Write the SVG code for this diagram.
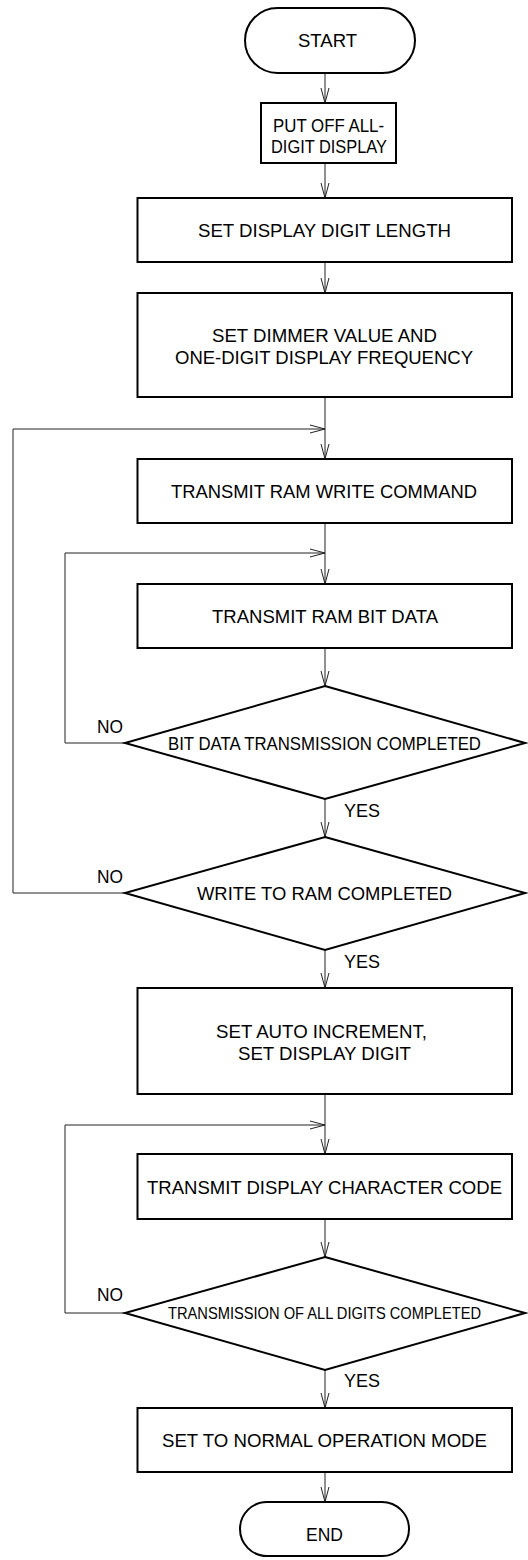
<svg xmlns="http://www.w3.org/2000/svg" width="528" height="1560" viewBox="0 0 528 1560">
<style>
.shape{fill:#fff;stroke:#000;stroke-width:2}
.conn{fill:none;stroke:#222;stroke-width:1}
text{font-family:"Liberation Sans",Arial,sans-serif;font-size:19px;fill:#000;text-anchor:middle}
.lbl{text-anchor:start}
.small{font-size:17px}
</style>
<defs>
<marker id="ah" viewBox="0 -5 16 10" markerWidth="16" markerHeight="10" refX="15" refY="0" orient="auto" markerUnits="userSpaceOnUse">
<path d="M0,-4 L15,0 L0,4" fill="none" stroke="#222" stroke-width="1"/>
</marker>
</defs>
<rect width="528" height="1560" fill="#fff"/>
<g id="connectors">
<line class="conn" x1="325" y1="73" x2="325" y2="103" marker-end="url(#ah)"/>
<line class="conn" x1="325" y1="163" x2="325" y2="198" marker-end="url(#ah)"/>
<line class="conn" x1="325" y1="262" x2="325" y2="293" marker-end="url(#ah)"/>
<line class="conn" x1="325" y1="397" x2="325" y2="459" marker-end="url(#ah)"/>
<polyline class="conn" points="125,893 13,893 13,429 325,429" marker-end="url(#ah)"/>
<line class="conn" x1="325" y1="523" x2="325" y2="584" marker-end="url(#ah)"/>
<polyline class="conn" points="125,743 65,743 65,553 325,553" marker-end="url(#ah)"/>
<line class="conn" x1="325" y1="648" x2="325" y2="686" marker-end="url(#ah)"/>
<line class="conn" x1="325" y1="799" x2="325" y2="837" marker-end="url(#ah)"/>
<line class="conn" x1="325" y1="950" x2="325" y2="988" marker-end="url(#ah)"/>
<line class="conn" x1="325" y1="1094" x2="325" y2="1154" marker-end="url(#ah)"/>
<polyline class="conn" points="125,1313 65,1313 65,1125 325,1125" marker-end="url(#ah)"/>
<line class="conn" x1="325" y1="1219" x2="325" y2="1257" marker-end="url(#ah)"/>
<line class="conn" x1="325" y1="1370" x2="325" y2="1408" marker-end="url(#ah)"/>
<line class="conn" x1="325" y1="1472" x2="325" y2="1502" marker-end="url(#ah)"/>
<text class="lbl" x="97" y="733" textLength="26" lengthAdjust="spacingAndGlyphs">NO</text>
<text class="lbl" x="344" y="817" textLength="36" lengthAdjust="spacingAndGlyphs">YES</text>
<text class="lbl" x="97" y="883" textLength="26" lengthAdjust="spacingAndGlyphs">NO</text>
<text class="lbl" x="344" y="968" textLength="36" lengthAdjust="spacingAndGlyphs">YES</text>
<text class="lbl" x="97" y="1301" textLength="26" lengthAdjust="spacingAndGlyphs">NO</text>
<text class="lbl" x="344" y="1387" textLength="36" lengthAdjust="spacingAndGlyphs">YES</text>
</g>
<g id="start">
<rect class="shape" x="245" y="8" width="170" height="65" rx="32.5"/>
<text x="327.5" y="47" textLength="59" lengthAdjust="spacingAndGlyphs">START</text>
</g>
<g id="put-off">
<rect class="shape" x="261" y="103" width="135" height="60"/>
<text x="328.5" y="132" textLength="111" lengthAdjust="spacingAndGlyphs">PUT OFF ALL-</text>
<text x="329" y="153" textLength="116" lengthAdjust="spacingAndGlyphs">DIGIT DISPLAY</text>
</g>
<g id="set-length">
<rect class="shape" x="137.5" y="198" width="374.5" height="64"/>
<text x="324.5" y="237" textLength="253" lengthAdjust="spacingAndGlyphs">SET DISPLAY DIGIT LENGTH</text>
</g>
<g id="set-dimmer">
<rect class="shape" x="137.5" y="293" width="374.5" height="104"/>
<text x="324.5" y="342" textLength="225" lengthAdjust="spacingAndGlyphs">SET DIMMER VALUE AND</text>
<text x="324" y="364" textLength="298" lengthAdjust="spacingAndGlyphs">ONE-DIGIT DISPLAY FREQUENCY</text>
</g>
<g id="ram-write">
<rect class="shape" x="137.5" y="459" width="374.5" height="64"/>
<text x="324" y="498" textLength="306" lengthAdjust="spacingAndGlyphs">TRANSMIT RAM WRITE COMMAND</text>
</g>
<g id="ram-bit">
<rect class="shape" x="137.5" y="584" width="374.5" height="64"/>
<text x="325" y="623" textLength="226" lengthAdjust="spacingAndGlyphs">TRANSMIT RAM BIT DATA</text>
</g>
<g id="bit-done">
<polygon class="shape" points="325,686 525,743 325,799 125,743"/>
<text x="324.5" y="750" textLength="313" lengthAdjust="spacingAndGlyphs">BIT DATA TRANSMISSION COMPLETED</text>
</g>
<g id="ram-done">
<polygon class="shape" points="325,837 525,893 325,950 125,893"/>
<text x="324.5" y="900" textLength="255" lengthAdjust="spacingAndGlyphs">WRITE TO RAM COMPLETED</text>
</g>
<g id="auto-inc">
<rect class="shape" x="137.5" y="988" width="374.5" height="106"/>
<text x="321.5" y="1038" textLength="211" lengthAdjust="spacingAndGlyphs">SET AUTO INCREMENT,</text>
<text x="324.5" y="1060" textLength="173" lengthAdjust="spacingAndGlyphs">SET DISPLAY DIGIT</text>
</g>
<g id="char-code">
<rect class="shape" x="137.5" y="1154" width="374.5" height="65"/>
<text x="324.5" y="1194" textLength="355" lengthAdjust="spacingAndGlyphs">TRANSMIT DISPLAY CHARACTER CODE</text>
</g>
<g id="all-done">
<polygon class="shape" points="325,1257 525,1313 325,1370 125,1313"/>
<text class="small" x="324.5" y="1319" textLength="313" lengthAdjust="spacingAndGlyphs">TRANSMISSION OF ALL DIGITS COMPLETED</text>
</g>
<g id="normal">
<rect class="shape" x="137.5" y="1408" width="374.5" height="64"/>
<text x="324.5" y="1447" textLength="325" lengthAdjust="spacingAndGlyphs">SET TO NORMAL OPERATION MODE</text>
</g>
<g id="end">
<rect class="shape" x="240" y="1502" width="169" height="54" rx="27"/>
<text x="324.5" y="1541" textLength="37" lengthAdjust="spacingAndGlyphs">END</text>
</g>
</svg>
